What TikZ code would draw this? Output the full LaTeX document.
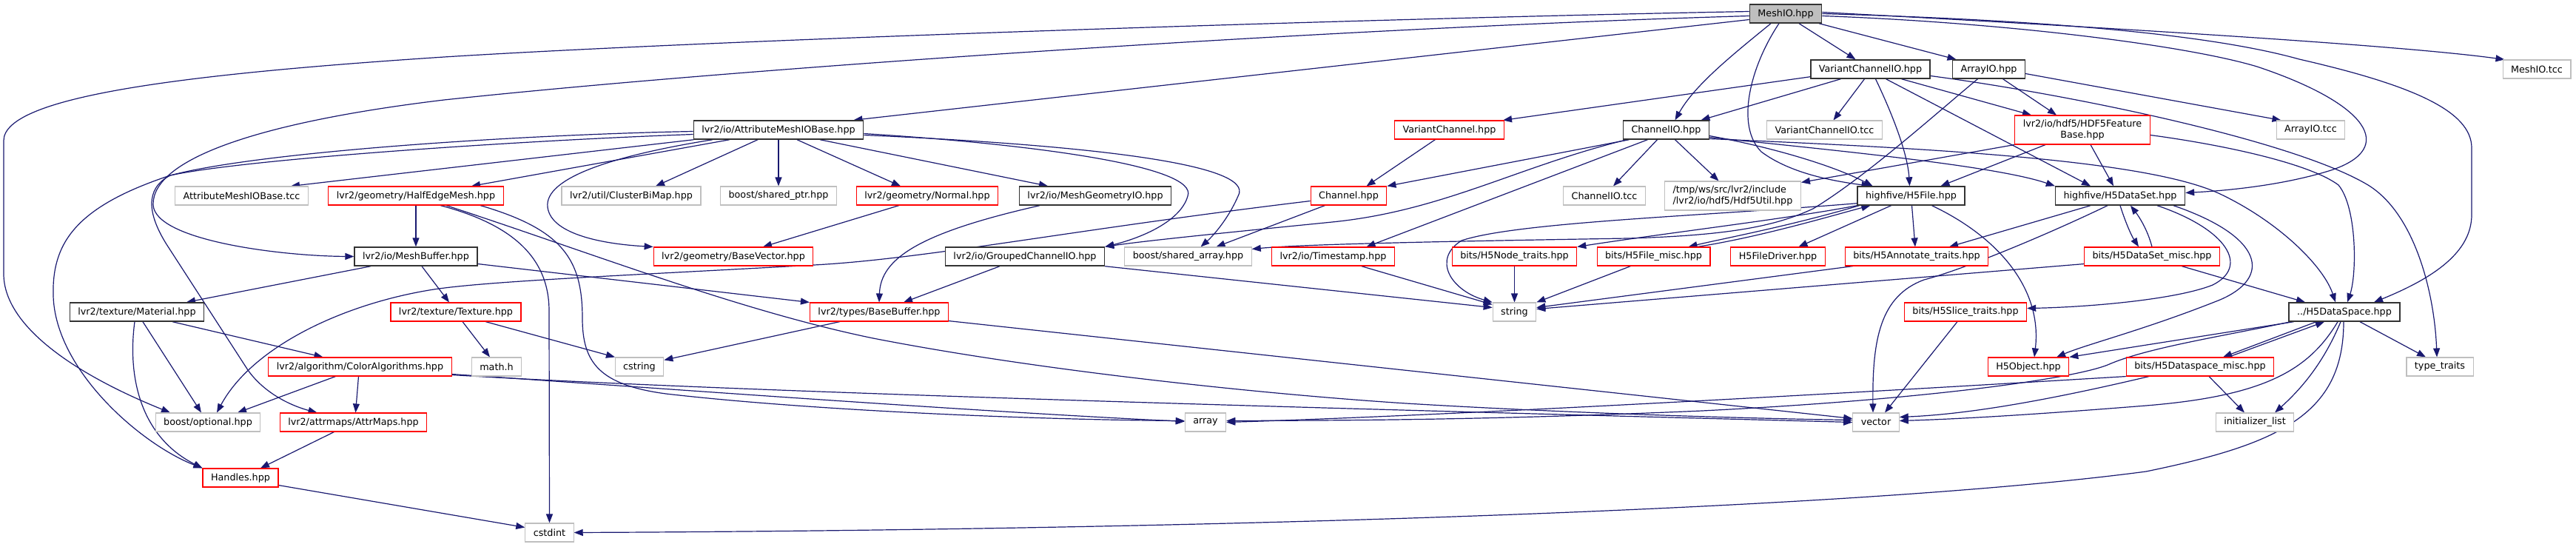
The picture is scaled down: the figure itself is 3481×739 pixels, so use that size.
\documentclass[tikz,border=0pt]{standalone}
\usepackage{fontspec}
\newfontfamily\nodefont{DejaVu Sans}
\usetikzlibrary{arrows.meta}
\definecolor{edgec}{RGB}{25,25,112}
\definecolor{gsev}{RGB}{191,191,191}
\definecolor{rdc}{RGB}{255,0,0}
\pgfdeclarelayer{bg}
\pgfdeclarelayer{edges}
\pgfsetlayers{bg,edges,main}
\tikzset{
  nd/.style={draw, rectangle, fill=white, inner xsep=11pt, inner ysep=0pt, minimum height=25pt,
             font=\nodefont\fontsize{12.75}{15}\selectfont, text=black},
  blk/.style={nd, draw=black!80, line width=1.4pt},
  gry/.style={nd, draw=gsev, line width=1.1pt},
  rd/.style={nd, draw=rdc, line width=1.1pt},
  root/.style={nd, draw=black!80, fill=gsev, line width=1.4pt},
  e/.style={draw=edgec, line width=1.2pt, -{Triangle[length=12pt,width=9pt]}},
}
\begin{document}
\begin{tikzpicture}[x=1pt,y=-1pt]
\begin{pgfonlayer}{bg}
\fill[white] (0,0) rectangle (3481,739);
\end{pgfonlayer}
\useasboundingbox (0,0) rectangle (3481,739);
% nodes
\node[root] (M) at (2413,18.5) {MeshIO.hpp};
\node[blk] (VCIO) at (2527.5,93.5) {VariantChannelIO.hpp};
\node[blk] (AIO) at (2687.5,93.5) {ArrayIO.hpp};
\node[gry] (MIOtcc) at (3428,93.5) {MeshIO.tcc};
\node[blk] (AMIOB) at (1052,175.5) {lvr2/io/AttributeMeshIOBase.hpp};
\node[rd] (VarChan) at (1958.5,175.5) {VariantChannel.hpp};
\node[blk] (ChIO) at (2251.5,175.5) {ChannelIO.hpp};
\node[gry] (VCIOtcc) at (2465.5,175.5) {VariantChannelIO.tcc};
\node[rd, minimum height=39pt, align=center] (FB) at (2814,175.5) {lvr2/io/hdf5/HDF5Feature\\Base.hpp};
\node[gry] (AIOtcc) at (3122.5,175.5) {ArrayIO.tcc};
\node[gry] (AMIOBtcc) at (326.5,264.5) {AttributeMeshIOBase.tcc};
\node[rd] (HEM) at (562,264.5) {lvr2/geometry/HalfEdgeMesh.hpp};
\node[gry] (CBM) at (853,264.5) {lvr2/util/ClusterBiMap.hpp};
\node[gry] (SPtr) at (1052,264.5) {boost/shared\_ptr.hpp};
\node[rd] (Normal) at (1253,264.5) {lvr2/geometry/Normal.hpp};
\node[blk] (MGIO) at (1480,264.5) {lvr2/io/MeshGeometryIO.hpp};
\node[rd] (Chan) at (1822.5,264.5) {Channel.hpp};
\node[gry] (ChIOtcc) at (2168,264.5) {ChannelIO.tcc};
\node[gry, minimum height=39pt, align=left] (HUtil) at (2341.5,264.5) {/tmp/ws/src/lvr2/include\\/lvr2/io/hdf5/Hdf5Util.hpp};
\node[blk] (H5F) at (2582.5,264.5) {highfive/H5File.hpp};
\node[blk] (H5DS) at (2865,264.5) {highfive/H5DataSet.hpp};
\node[blk] (MB) at (562,346.5) {lvr2/io/MeshBuffer.hpp};
\node[rd] (BV) at (991,346.5) {lvr2/geometry/BaseVector.hpp};
\node[blk] (GCIO) at (1385,346.5) {lvr2/io/GroupedChannelIO.hpp};
\node[gry] (SArr) at (1605.5,346.5) {boost/shared\_array.hpp};
\node[rd] (TS) at (1801.5,346.5) {lvr2/io/Timestamp.hpp};
\node[rd] (H5NT) at (2046.5,346.5) {bits/H5Node\_traits.hpp};
\node[rd] (H5FM) at (2234.5,346.5) {bits/H5File\_misc.hpp};
\node[rd] (H5FD) at (2402.5,346.5) {H5FileDriver.hpp};
\node[rd] (H5AT) at (2590,346.5) {bits/H5Annotate\_traits.hpp};
\node[rd] (H5DSM) at (2908,346.5) {bits/H5DataSet\_misc.hpp};
\node[blk] (Mat) at (185,421.5) {lvr2/texture/Material.hpp};
\node[rd] (Tex) at (616,421.5) {lvr2/texture/Texture.hpp};
\node[rd] (BB) at (1188,421.5) {lvr2/types/BaseBuffer.hpp};
\node[gry] (str) at (2046.5,421.5) {string};
\node[rd] (H5ST) at (2656,421.5) {bits/H5Slice\_traits.hpp};
\node[blk] (H5SP) at (3168,421.5) {../H5DataSpace.hpp};
\node[rd] (CA) at (486.5,495.5) {lvr2/algorithm/ColorAlgorithms.hpp};
\node[gry] (math) at (671,495.5) {math.h};
\node[gry] (cstr) at (864,495.5) {cstring};
\node[rd] (H5O) at (2741,495.5) {H5Object.hpp};
\node[rd] (H5SPM) at (2973,495.5) {bits/H5Dataspace\_misc.hpp};
\node[gry] (tt) at (3297,495.5) {type\_traits};
\node[gry] (opt) at (281,570.5) {boost/optional.hpp};
\node[rd] (AM) at (477.5,570.5) {lvr2/attrmaps/AttrMaps.hpp};
\node[gry] (arr) at (1629,570.5) {array};
\node[gry] (vec) at (2535,570.5) {vector};
\node[gry] (il) at (3047,570.5) {initializer\_list};
\node[rd] (Hd) at (325,645.5) {Handles.hpp};
\node[gry] (cint) at (742.5,719.5) {cstdint};
% edges
\begin{pgfonlayer}{edges}
\draw[e] ([xshift=18pt]M.south) -- ([xshift=-20pt]VCIO.north);
\draw[e] ([xshift=45pt]M.south) -- ([xshift=-44pt]AIO.north);
\draw[e] ([yshift=2pt]M.east) .. controls (2900,40) and (3250,62) .. ([xshift=3pt]MIOtcc.north west);
\draw[e] ([yshift=-8pt]M.west) -- ([xshift=-14pt]AMIOB.north east);
\draw[e] ([yshift=3pt]M.west) .. controls (1900,24) and (1000,52) .. (600,77) .. controls (250,100) and (5,130) .. (5,190) -- (5,370) .. controls (5,440) and (100,505) .. ([xshift=-51pt]opt.north);
\draw[e] ([yshift=-3pt]M.west) .. controls (1800,38) and (1000,92) .. (600,135) .. controls (350,165) and (205,215) .. (207,277) .. controls (210,325) and (380,346) .. (MB.west);
\draw[e] ([xshift=-20pt]M.south) .. controls (2340,75) and (2290,115) .. ([xshift=12pt]ChIO.north);
\draw[e] ([xshift=-9pt]M.south) .. controls (2365,90) and (2345,170) .. (2380,205) .. controls (2420,235) and (2480,245) .. ([xshift=-55pt]H5F.north);
\draw[e] ([yshift=-3pt]M.east) .. controls (2700,30) and (2950,60) .. (3050,90) .. controls (3200,140) and (3240,200) .. (3150,230) .. controls (3080,252) and (3000,258) .. ([yshift=4pt]H5DS.east);
\draw[e] (M.east) .. controls (2800,28) and (3000,50) .. (3107,80) .. controls (3260,115) and (3340,150) .. (3340,200) -- (3340,290) .. controls (3340,340) and (3290,375) .. ([xshift=40pt]H5SP.north);
\draw[e] ([yshift=3pt]VCIO.south west) -- ([xshift=-2pt]VarChan.north east);
\draw[e] ([xshift=-40pt]VCIO.south) -- ([xshift=47pt]ChIO.north);
\draw[e] ([xshift=-8pt]VCIO.south) -- ([xshift=12pt]VCIOtcc.north);
\draw[e] ([xshift=7pt]VCIO.south) .. controls (2560,160) and (2578,210) .. ([xshift=-2pt]H5F.north);
\draw[e] ([xshift=21pt]VCIO.south) -- ([xshift=-40pt]H5DS.north);
\draw[e] ([xshift=42pt]VCIO.south) -- ([xshift=-69pt]FB.north);
\draw[e] ([yshift=-9pt]VCIO.east) .. controls (2800,128) and (3100,190) .. (3200,250) .. controls (3265,290) and (3290,400) .. ([xshift=-4pt]tt.north);
\draw[e] ([yshift=-6pt]AIO.east) -- ([xshift=-40pt]AIOtcc.north);
\draw[e] ([xshift=19pt]AIO.south) -- ([xshift=-35pt]FB.north);
\draw[e] ([xshift=-15pt]AIO.south) .. controls (2620,150) and (2520,240) .. (2450,282) .. controls (2400,305) and (2340,318) .. (2200,322) .. controls (1950,326) and (1760,330) .. ([yshift=-3pt]SArr.north east);
\draw[e] ([xshift=-50pt]ChIO.south) -- (Chan.north east);
\draw[e] ([xshift=-53pt]ChIO.south) .. controls (2050,225) and (1950,285) .. (1800,300) .. controls (1650,315) and (1550,325) .. (GCIO.north east);
\draw[e] ([xshift=-25pt]ChIO.south) -- ([xshift=45pt]TS.north);
\draw[e] ([xshift=-12pt]ChIO.south) -- ([xshift=12pt]ChIOtcc.north);
\draw[e] ([xshift=12pt]ChIO.south) -- ([xshift=-19pt]HUtil.north);
\draw[e] ([yshift=-8pt]ChIO.east) .. controls (2400,200) and (2480,225) .. ([xshift=-52pt]H5F.north);
\draw[e] ([yshift=-10pt]ChIO.east) .. controls (2500,205) and (2700,225) .. (H5DS.north west);
\draw[e] ([yshift=-12pt]ChIO.east) .. controls (2600,200) and (2900,215) .. (3000,262) .. controls (3080,300) and (3140,360) .. ([xshift=-12pt]H5SP.north);
\draw[e] ([xshift=1pt]AMIOB.south west) -- ([xshift=-24pt]AMIOBtcc.north east);
\draw[e] ([xshift=-66pt]AMIOB.south) -- ([xshift=75pt]HEM.north);
\draw[e] ([xshift=-28pt]AMIOB.south) -- ([xshift=33pt]CBM.north);
\draw[e] (AMIOB.south) -- (SPtr.north);
\draw[e] ([xshift=25pt]AMIOB.south) -- ([xshift=-36pt]Normal.north);
\draw[e] ([xshift=56pt]AMIOB.south) -- ([xshift=-64pt]MGIO.north);
\draw[e] ([xshift=-89pt]AMIOB.south) .. controls (830,210) and (735,240) .. (740,280) .. controls (745,318) and (820,330) .. (BV.north west);
\draw[e] ([yshift=-2pt]AMIOB.west) .. controls (700,182) and (350,205) .. (230,237) .. controls (100,280) and (70,330) .. (72,400) .. controls (75,500) and (190,600) .. (Hd.north west);
\draw[e] ([yshift=-6pt]AMIOB.west) .. controls (700,190) and (330,215) .. (230,237) .. controls (195,255) and (200,290) .. (225,330) -- (335,500) .. controls (360,535) and (400,550) .. ([xshift=-49pt]AM.north);
\draw[e] ([yshift=-5pt]AMIOB.east) .. controls (1400,195) and (1620,225) .. (1605,265) .. controls (1595,300) and (1540,322) .. (GCIO.north east);
\draw[e] ([yshift=-7pt]AMIOB.east) .. controls (1450,195) and (1700,220) .. (1673,265) .. controls (1660,295) and (1640,318) .. ([xshift=17pt]SArr.north);
\draw[e] ([xshift=-75pt]MGIO.south) .. controls (1240,315) and (1190,350) .. (BB.north);
\draw[e] ([xshift=-38pt]Normal.south) -- ([xshift=40pt]BV.north);
\draw[e] (HEM.south) -- (MB.north);
\draw[e] ([xshift=33pt]HEM.south) .. controls (680,300) and (742,340) .. (742,420) -- (cint.north);
\draw[e] ([xshift=87pt]HEM.south) .. controls (760,310) and (787,350) .. (787,430) .. controls (787,490) and (810,520) .. (900,532) .. controls (1100,555) and (1400,567) .. ([yshift=2pt]arr.west);
\draw[e] ([xshift=41pt]HEM.south) .. controls (800,342) and (1000,420) .. (1180,457) .. controls (1400,500) and (1700,532) .. (1900,545) .. controls (2150,560) and (2400,566) .. ([yshift=3pt]vec.west);
\draw[e] ([xshift=-61pt]MB.south) -- ([xshift=67pt]Mat.north);
\draw[e] ([xshift=8pt]MB.south) -- ([xshift=-9pt]Tex.north);
\draw[e] ([yshift=-10pt]MB.east) -- (BB.north west);
\draw[e] ([xshift=9pt]Tex.south) -- ([xshift=-9pt]math.north);
\draw[e] ([xshift=40pt]Tex.south) -- ([xshift=-33pt]cstr.north);
\draw[e] ([xshift=-53pt]BB.south) -- ([yshift=-4pt]cstr.north east);
\draw[e] ([yshift=1pt]BB.south east) -- ([yshift=5pt]vec.west);
\draw[e] ([xshift=8pt]Mat.south) -- ([xshift=-9pt]opt.north);
\draw[e] ([xshift=48pt]Mat.south) -- ([xshift=-50pt]CA.north);
\draw[e] ([xshift=-3pt]Mat.south) .. controls (172,510) and (190,590) .. (Hd.north west);
\draw[e] ([xshift=-33pt]CA.south) -- ([xshift=40pt]opt.north);
\draw[e] ([xshift=-2pt]CA.south) -- ([xshift=3pt]AM.north);
\draw[e] ([yshift=-10pt]CA.east) .. controls (900,525) and (1300,555) .. ([yshift=1pt]arr.west);
\draw[e] ([yshift=-11pt]CA.east) .. controls (1000,530) and (1800,552) .. (vec.west);
\draw[e] ([xshift=-26pt]AM.south) -- ([xshift=27pt]Hd.north);
\draw[e] ([yshift=3pt]Hd.south east) -- ([yshift=7pt]cint.west);
\draw[e] ([xshift=-32pt]Chan.south) -- ([xshift=38pt]SArr.north);
\draw[e] ([yshift=-7pt]Chan.west) .. controls (1450,310) and (1250,350) .. (1100,358) .. controls (850,372) and (650,380) .. (580,392) .. controls (460,412) and (340,470) .. ([xshift=12pt]opt.north);
\draw[e] ([xshift=-19pt]VarChan.south) -- ([xshift=24pt]Chan.north);
\draw[e] ([xshift=-34pt]GCIO.south) -- ([xshift=33pt]BB.north);
\draw[e] (GCIO.south east) -- ([yshift=6pt]str.west);
\draw[e] ([xshift=-27pt]H5F.south) -- ([xshift=28pt]H5FD.north);
\draw[e] ([xshift=1pt]H5F.south) -- ([xshift=-2pt]H5AT.north);
\draw[e] ([xshift=28pt]H5F.south) .. controls (2700,320) and (2760,390) .. ([xshift=8pt]H5O.north);
\draw[e] (H5F.south west) .. controls (2420,295) and (2250,315) .. (H5NT.north east);
\draw[e] ([xshift=3pt]H5F.south west) .. controls (2420,305) and (2330,322) .. ([xshift=-30pt]H5FM.north east);
\draw[e] ([xshift=-18pt]H5FM.north east) .. controls (2380,320) and (2480,290) .. ([xshift=18pt]H5F.south west);
\draw[e] ([yshift=3pt]H5F.south west) .. controls (2300,292) and (2050,300) .. (1975,325) .. controls (1935,350) and (1960,392) .. (str.north west);
\draw[e] (H5NT.south) -- (str.north);
\draw[e] ([xshift=-31pt]H5FM.south) -- (str.north east);
\draw[e] ([xshift=38pt]TS.south) -- ([yshift=-3pt]str.north west);
\draw[e] ([xshift=-86pt]H5AT.south) -- ([yshift=6pt]str.east);
\draw[e] ([yshift=3pt]H5DSM.south west) -- ([yshift=4pt]str.east);
\draw[e] ([xshift=-40pt]H5DS.south) -- ([xshift=44pt]H5AT.north);
\draw[e] ([xshift=-17pt]H5DS.south) .. controls (2760,320) and (2650,365) .. (2600,378) .. controls (2540,400) and (2530,460) .. ([xshift=-4pt]vec.north);
\draw[e] (H5DS.south) .. controls (2872,300) and (2880,318) .. ([xshift=-18pt]H5DSM.north);
\draw[e] (H5DSM.north) .. controls (2902,310) and (2890,292) .. ([xshift=14pt]H5DS.south);
\draw[e] ([xshift=50pt]H5DS.south) .. controls (3010,310) and (3040,360) .. (2990,385) .. controls (2940,405) and (2820,415) .. ([yshift=5pt]H5ST.east);
\draw[e] ([xshift=72pt]H5DS.south) .. controls (3060,320) and (3070,375) .. (3000,405) .. controls (2900,445) and (2820,465) .. ([xshift=38pt]H5O.north);
\draw[e] ([xshift=40pt]H5DSM.south) -- ([xshift=-53pt]H5SP.north);
\draw[e] ([xshift=-11pt]H5ST.south) -- ([xshift=12pt]vec.north);
\draw[e] ([xshift=21pt]H5SP.south) -- ([xshift=-19pt]tt.north);
\draw[e] ([xshift=-5pt]H5SP.south) .. controls (3140,490) and (3110,525) .. ([xshift=27pt]il.north);
\draw[e] ([xshift=-1pt]H5SP.south) .. controls (3167,560) and (3080,600) .. (2900,637) .. controls (2500,690) and (1600,716) .. (cint.east);
\draw[e] ([xshift=-9pt]H5SP.south) .. controls (3120,500) and (3060,535) .. (2900,548) .. controls (2750,560) and (2650,566) .. ([yshift=2pt]vec.east);
\draw[e] ([xshift=-38pt]H5SP.south) -- ([xshift=31pt]H5SPM.north);
\draw[e] ([xshift=38pt]H5SPM.north) -- ([xshift=-27pt]H5SP.south);
\draw[e] ([xshift=3pt]H5SP.south west) .. controls (3000,455) and (2900,470) .. (2848,493) .. controls (2800,512) and (2600,540) .. (2300,555) .. controls (2000,568) and (1800,568) .. ([yshift=2pt]arr.east);
\draw[e] ([xshift=7pt]H5SP.south west) -- (H5O.north east);
\draw[e] ([xshift=12pt]H5SPM.south) -- ([xshift=-14pt]il.north);
\draw[e] ([xshift=-69pt]H5SPM.south) .. controls (2750,545) and (2650,560) .. ([yshift=7pt]vec.east);
\draw[e] (H5SPM.south west) .. controls (2600,525) and (2000,560) .. (arr.east);
\draw[e] ([xshift=-92pt]FB.south) -- ([yshift=-2pt]HUtil.north east);
\draw[e] ([xshift=-50pt]FB.south) -- ([xshift=40pt]H5F.north);
\draw[e] ([xshift=11pt]FB.south) -- ([xshift=-9pt]H5DS.north);
\draw[e] ([yshift=-7pt]FB.east) .. controls (3000,195) and (3120,220) .. (3160,250) .. controls (3185,280) and (3185,370) .. ([xshift=4pt]H5SP.north);
\end{pgfonlayer}
\end{tikzpicture}
\end{document}
